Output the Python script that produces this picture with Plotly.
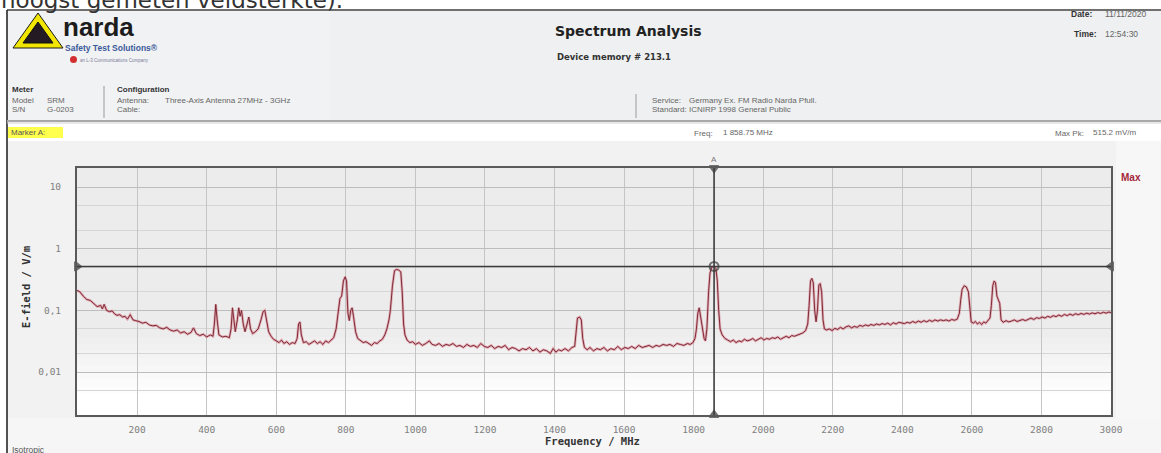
import plotly.graph_objects as go

# ---------------- data ----------------
freq_mhz = [
    27, 35, 45, 55, 65, 75, 85, 95, 100, 105, 112, 120, 128, 135, 142, 150, 158, 165, 172, 180,
    188, 196, 205, 215, 225, 235, 245, 255, 265, 275, 285, 295, 305, 315, 325, 335, 345, 355, 362, 370,
    380, 390, 400, 410, 418, 422, 426, 430, 435, 445, 455, 465, 470, 474, 478, 482, 488, 492, 496, 500,
    505, 510, 516, 521, 526, 532, 540, 548, 556, 562, 567, 572, 578, 585, 592, 600, 608, 615, 622, 630,
    638, 646, 654, 660, 664, 668, 672, 678, 686, 694, 702, 710, 718, 726, 734, 742, 750, 758, 765, 772,
    778, 783, 788, 793, 798, 802, 806, 810, 814, 818, 822, 828, 834, 842, 850, 858, 866, 874, 882, 890,
    898, 905, 912, 918, 924, 928, 934, 940, 946, 952, 958, 962, 966, 970, 976, 984, 992, 1000, 1010, 1020,
    1030, 1040, 1048, 1058, 1068, 1078, 1088, 1098, 1108, 1118, 1128, 1138, 1148, 1158, 1168, 1178, 1188, 1198, 1208, 1218,
    1228, 1238, 1248, 1258, 1268, 1278, 1288, 1298, 1308, 1318, 1328, 1338, 1348, 1358, 1368, 1378, 1388, 1396, 1404, 1412,
    1420, 1430, 1440, 1450, 1458, 1462, 1466, 1472, 1477, 1481, 1486, 1494, 1502, 1512, 1522, 1532, 1542, 1552, 1562, 1572,
    1582, 1592, 1602, 1612, 1622, 1632, 1642, 1652, 1662, 1672, 1682, 1692, 1702, 1712, 1722, 1732, 1742, 1752, 1762, 1772,
    1782, 1790, 1798, 1804, 1808, 1812, 1816, 1820, 1825, 1830, 1834, 1838, 1843, 1847, 1852, 1858.75, 1864, 1868, 1872, 1876,
    1882, 1890, 1898, 1906, 1914, 1922, 1930, 1938, 1946, 1954, 1962, 1970, 1978, 1986, 1994, 2002, 2010, 2018, 2026, 2034,
    2042, 2050, 2058, 2066, 2074, 2082, 2090, 2098, 2106, 2114, 2122, 2128, 2132, 2136, 2140, 2144, 2148, 2152, 2156, 2160,
    2164, 2168, 2172, 2176, 2182, 2190, 2198, 2206, 2214, 2222, 2230, 2238, 2246, 2254, 2262, 2270, 2278, 2286, 2294, 2302,
    2310, 2318, 2326, 2334, 2342, 2350, 2358, 2366, 2374, 2382, 2390, 2398, 2406, 2414, 2422, 2430, 2438, 2446, 2454, 2462,
    2470, 2478, 2486, 2494, 2502, 2510, 2518, 2526, 2534, 2542, 2550, 2558, 2564, 2568, 2572, 2578, 2584, 2590, 2594, 2598,
    2604, 2610, 2616, 2622, 2628, 2634, 2640, 2646, 2652, 2656, 2660, 2664, 2668, 2672, 2676, 2680, 2684, 2690, 2698, 2706,
    2714, 2722, 2730, 2738, 2746, 2754, 2762, 2770, 2778, 2786, 2794, 2802, 2810, 2818, 2826, 2834, 2842, 2850, 2858, 2866,
    2874, 2882, 2890, 2898, 2906, 2914, 2922, 2930, 2938, 2946, 2954, 2962, 2970, 2978, 2986, 2994, 3000,
]
efield_vm = [
    0.21, 0.20, 0.17, 0.15, 0.145, 0.13, 0.115, 0.12, 0.105, 0.125, 0.10, 0.095, 0.098, 0.088, 0.083, 0.085, 0.078, 0.08, 0.072, 0.085,
    0.07, 0.068, 0.066, 0.062, 0.064, 0.058, 0.056, 0.057, 0.052, 0.05, 0.053, 0.048, 0.046, 0.048, 0.043, 0.045, 0.041, 0.044, 0.052, 0.042,
    0.039, 0.041, 0.037, 0.040, 0.038, 0.06, 0.125, 0.07, 0.04, 0.037, 0.038, 0.036, 0.05, 0.11, 0.07, 0.045, 0.07, 0.11, 0.08, 0.10,
    0.06, 0.045, 0.06, 0.078, 0.05, 0.042, 0.045, 0.05, 0.07, 0.095, 0.10, 0.07, 0.045, 0.038, 0.034, 0.032, 0.030, 0.033, 0.029, 0.031,
    0.028, 0.030, 0.029, 0.035, 0.06, 0.065, 0.04, 0.030, 0.031, 0.028, 0.030, 0.032, 0.029, 0.031, 0.028, 0.032, 0.030, 0.033, 0.036, 0.05,
    0.10, 0.155, 0.17, 0.30, 0.35, 0.30, 0.09, 0.068, 0.10, 0.11, 0.08, 0.045, 0.035, 0.032, 0.030, 0.031, 0.029, 0.027, 0.030, 0.029,
    0.032, 0.034, 0.040, 0.050, 0.07, 0.10, 0.25, 0.44, 0.46, 0.45, 0.42, 0.20, 0.06, 0.04, 0.033, 0.030, 0.031, 0.028, 0.030, 0.027,
    0.029, 0.032, 0.028, 0.027, 0.029, 0.026, 0.028, 0.027, 0.029, 0.026, 0.027, 0.025, 0.028, 0.026, 0.027, 0.025, 0.029, 0.026, 0.025, 0.027,
    0.024, 0.026, 0.025, 0.027, 0.023, 0.025, 0.024, 0.022, 0.024, 0.023, 0.025, 0.022, 0.024, 0.021, 0.023, 0.022, 0.020, 0.024, 0.021, 0.023,
    0.022, 0.024, 0.022, 0.025, 0.026, 0.04, 0.075, 0.078, 0.07, 0.035, 0.025, 0.023, 0.025, 0.022, 0.024, 0.023, 0.025, 0.022, 0.024, 0.023,
    0.026, 0.023, 0.025, 0.024, 0.026, 0.024, 0.027, 0.025, 0.026, 0.027, 0.025, 0.027, 0.026, 0.028, 0.027, 0.028, 0.026, 0.029, 0.028, 0.027,
    0.029, 0.028, 0.030, 0.035, 0.05, 0.09, 0.11, 0.08, 0.05, 0.035, 0.032, 0.05, 0.20, 0.40, 0.50, 0.5152, 0.48, 0.30, 0.10, 0.05,
    0.04, 0.035, 0.033, 0.031, 0.033, 0.030, 0.032, 0.031, 0.034, 0.032, 0.033, 0.035, 0.032, 0.034, 0.036, 0.033, 0.035, 0.034, 0.036, 0.035,
    0.037, 0.034, 0.036, 0.038, 0.036, 0.039, 0.038, 0.040, 0.041, 0.043, 0.047, 0.06, 0.12, 0.30, 0.33, 0.28, 0.10, 0.065, 0.10, 0.26,
    0.27, 0.20, 0.07, 0.05, 0.048, 0.050, 0.047, 0.051, 0.049, 0.053, 0.050, 0.054, 0.056, 0.052, 0.055, 0.053, 0.057, 0.055, 0.058, 0.056,
    0.059, 0.057, 0.060, 0.058, 0.061, 0.059, 0.062, 0.058, 0.063, 0.060, 0.064, 0.062, 0.061, 0.064, 0.062, 0.066, 0.063, 0.067, 0.064, 0.068,
    0.065, 0.069, 0.066, 0.070, 0.067, 0.070, 0.068, 0.070, 0.067, 0.071, 0.069, 0.072, 0.09, 0.15, 0.22, 0.25, 0.24, 0.20, 0.10, 0.065,
    0.062, 0.066, 0.060, 0.064, 0.059, 0.065, 0.062, 0.067, 0.075, 0.12, 0.25, 0.30, 0.28, 0.17, 0.15, 0.13, 0.07, 0.064, 0.068, 0.065,
    0.067, 0.070, 0.066, 0.069, 0.071, 0.068, 0.072, 0.075, 0.071, 0.076, 0.074, 0.078, 0.075, 0.080, 0.077, 0.082, 0.079, 0.084, 0.080, 0.086,
    0.082, 0.087, 0.083, 0.088, 0.085, 0.089, 0.086, 0.090, 0.087, 0.091, 0.088, 0.092, 0.089, 0.093, 0.090, 0.094, 0.091,
]
x_tick_vals = [200, 400, 600, 800, 1000, 1200, 1400, 1600, 1800, 2000, 2200, 2400, 2600, 2800, 3000]
y_tick_vals = [10, 1, 0.1, 0.01]
y_tick_text = ["10", "1", "0,1", "0,01"]
marker_freq = 1858.75
marker_peak = 0.5152
x_range = [27, 3000]
y_range_log = [-2.697, 1.308]

# ---------------- geometry helpers (pixel -> paper) ----------------
W, H = 1161, 453
PL, PR, PT, PB = 77, 1111, 168, 415


def px(x):
    return (x - PL) / (PR - PL)


def py(y):
    return (PB - y) / (PB - PT)


shapes = []


def rect(x0, y0, x1, y1, fill, line=None, lw=0):
    shapes.append(dict(type="rect", xref="paper", yref="paper", x0=px(x0), x1=px(x1), y0=py(y1), y1=py(y0),
                       fillcolor=fill, line=dict(width=lw, color=line or fill), layer="below"))


def hline(x0, x1, y, color, w):
    shapes.append(dict(type="line", xref="paper", yref="paper", x0=px(x0), x1=px(x1), y0=py(y), y1=py(y),
                       line=dict(color=color, width=w), layer="above"))


def vline(x, y0, y1, color, w):
    shapes.append(dict(type="line", xref="paper", yref="paper", x0=px(x), x1=px(x), y0=py(y0), y1=py(y1),
                       line=dict(color=color, width=w), layer="above"))


# page panels
rect(0, 0, W, H, "#ffffff")
rect(7, 10, W, 122, "#eef0f1")
rect(7, 10, 330, 122, "#f1f2f3")
rect(7, 123, W, 141, "#ffffff")
rect(7, 141, W, H, "#f2f2f2")
rect(1116, 141, W, H, "#f7f7f7")
rect(7, 418, W, H, "#f6f6f6")
# plot area vertical gradient (grey top -> white bottom)
rect(PL, PT, PR, 330, "#ececec")
steps = 10
for i in range(steps):
    y0 = 330 + i * (400 - 330) / steps
    y1 = 330 + (i + 1) * (400 - 330) / steps
    c = int(236 + (255 - 236) * (i + 1) / steps)
    rect(PL, y0, PR, y1 + 0.5, f"rgb({c},{c},{c})")
rect(PL, 400, PR, PB, "#ffffff")

# frame lines
hline(7, W, 10, "#707070", 2)
vline(7, 10, H, "#1a1a1a", 1.5)
hline(7, W, 121, "#a8a8a8", 2)
hline(7, W, 123, "#d0d0d0", 1)
vline(104, 86, 118, "#9a9a9a", 1)
vline(636, 94, 118, "#9a9a9a", 1)

# narda logo triangles
shapes.append(dict(type="path", xref="paper", yref="paper",
                   path=f"M {px(13)} {py(48)} L {px(38)} {py(13)} L {px(63)} {py(48)} Z",
                   fillcolor="#f2e600", line=dict(color="#1a1a1a", width=1), layer="above"))
shapes.append(dict(type="path", xref="paper", yref="paper",
                   path=f"M {px(23)} {py(43)} L {px(38)} {py(22)} L {px(53)} {py(43)} Z",
                   fillcolor="#241a24", line=dict(color="#111", width=1), layer="above"))
shapes.append(dict(type="circle", xref="paper", yref="paper",
                   x0=px(70), x1=px(77), y0=py(63), y1=py(56),
                   fillcolor="#d23030", line=dict(width=0), layer="above"))
# Marker A highlight
rect(8, 127, 63, 138, "#ffff4d")

annotations = []


def txt(x, y, s, size=8, color="#555", bold=False, anchor="left", family="Liberation Sans", yanchor="middle", angle=0):
    annotations.append(dict(xref="paper", yref="paper", x=px(x), y=py(y), text=f"<b>{s}</b>" if bold else s,
                            showarrow=False, xanchor=anchor, yanchor=yanchor, textangle=angle,
                            font=dict(size=size, color=color, family=family), borderpad=0))


# clipped document text at very top
txt(0, 14, "hoogst gemeten veldsterkte).", size=23, color="#333", family="DejaVu Sans", yanchor="bottom")

txt(62, 27, "narda", size=26, color="#1c1c1c", bold=True, family="Liberation Sans")
txt(64, 48, "Safety Test Solutions®", size=8.5, color="#3a5a9a", bold=True)
txt(79, 60, "an L-3 Communications Company", size=4.5, color="#7a7a9a")

txt(628, 31, "Spectrum Analysis", size=14, color="#222", bold=True, anchor="center", family="DejaVu Sans")
txt(614, 57, "Device memory # 213.1", size=8.5, color="#333", bold=True, anchor="center", family="DejaVu Sans")

txt(1070, 14, "Date:", size=8.5, color="#333", bold=True)
txt(1104, 14, "11/11/2020", size=8.5, color="#666")
txt(1073, 34, "Time:", size=8.5, color="#333", bold=True)
txt(1104, 34, "12:54:30", size=8.5, color="#666")

FS = 8
txt(11, 90, "Meter", size=FS, color="#333", bold=True)
txt(11, 100, "Model", size=FS, color="#666")
txt(46, 100, "SRM", size=FS, color="#666")
txt(11, 109, "S/N", size=FS, color="#666")
txt(46, 109, "G-0203", size=FS, color="#666")
txt(116, 90, "Configuration", size=FS, color="#333", bold=True)
txt(116, 100, "Antenna:", size=FS, color="#666")
txt(164, 100, "Three-Axis Antenna 27MHz - 3GHz", size=FS, color="#666")
txt(116, 109, "Cable:", size=FS, color="#666")
txt(651, 100, "Service:", size=FS, color="#666")
txt(688, 100, "Germany Ex. FM Radio Narda Pfull.", size=FS, color="#666")
txt(651, 109, "Standard:", size=FS, color="#666")
txt(688, 109, "ICNIRP 1998 General Public", size=FS, color="#666")

txt(10, 132, "Marker A:", size=FS, color="#555")
txt(693, 133, "Freq:", size=FS, color="#666")
txt(722, 132, "1 858.75 MHz", size=FS, color="#666")
txt(1054, 133, "Max Pk:", size=FS, color="#666")
txt(1092, 132, "515.2 mV/m", size=FS, color="#666")

txt(11, 450, "Isotropic", size=8.5, color="#555")
txt(1120, 177, "Max", size=10, color="#a3283a", bold=True)
txt(714, 159, "A", size=8, color="#777", anchor="center")
txt(26, 287, "E-field / V/m", size=10.5, color="#333", bold=True, anchor="center", family="DejaVu Sans Mono", angle=-90)
txt(592, 441, "Frequency / MHz", size=10.5, color="#333", bold=True, anchor="center", family="DejaVu Sans Mono")

# ---------------- figure ----------------
fig = go.Figure()
# soft halo under the trace (matches blurred rendering)
fig.add_trace(go.Scatter(x=freq_mhz, y=efield_vm, mode="lines",
                         line=dict(color="rgba(215,120,135,0.55)", width=2.6), hoverinfo="skip"))
fig.add_trace(go.Scatter(x=freq_mhz, y=efield_vm, mode="lines",
                         line=dict(color="#7e2a36", width=1.0), name="Max"))

# marker lines
y_top = 10 ** y_range_log[1]
y_bot = 10 ** y_range_log[0]
fig.add_trace(go.Scatter(x=[marker_freq, marker_freq], y=[y_bot, y_top], mode="lines",
                         line=dict(color="#3c3c3c", width=1.6), cliponaxis=False, hoverinfo="skip"))
fig.add_trace(go.Scatter(x=[x_range[0], x_range[1]], y=[marker_peak, marker_peak], mode="lines",
                         line=dict(color="#3c3c3c", width=1.6), cliponaxis=False, hoverinfo="skip"))
fig.add_trace(go.Scatter(
    x=[marker_freq, marker_freq, x_range[0], x_range[1], marker_freq],
    y=[y_top, y_bot, marker_peak, marker_peak, marker_peak],
    mode="markers", cliponaxis=False, hoverinfo="skip",
    marker=dict(symbol=["triangle-down", "triangle-up", "triangle-right", "triangle-left", "circle-open"],
                size=[8, 8, 8, 8, 9], color="#3c3c3c", line=dict(color="#3c3c3c", width=2))))

fig.update_layout(
    width=W, height=H, autosize=False,
    margin=dict(l=PL, r=W - PR, t=PT, b=H - PB, pad=0),
    paper_bgcolor="#ffffff", plot_bgcolor="rgba(0,0,0,0)",
    showlegend=False,
    shapes=shapes, annotations=annotations,
    xaxis=dict(range=x_range, tickvals=x_tick_vals, ticks="", ticklabelstandoff=5,
               tickfont=dict(size=9.5, color="#808080", family="DejaVu Sans Mono"),
               showgrid=True, gridcolor="#c4c4c4", gridwidth=1, zeroline=False,
               showline=True, linecolor="#5a5a5a", linewidth=2, mirror=True),
    yaxis=dict(type="log", range=y_range_log, tickvals=y_tick_vals, ticktext=y_tick_text, ticks="",
               ticklabelstandoff=12,
               tickfont=dict(size=9.5, color="#808080", family="DejaVu Sans Mono"),
               showgrid=True, gridcolor="#bdbdbd", gridwidth=1, zeroline=False,
               minor=dict(dtick="D2", showgrid=True, gridcolor="#d6d6d6", gridwidth=1),
               showline=True, linecolor="#5a5a5a", linewidth=2, mirror=True),
)

fig.write_html("out.html", config={"displayModeBar": False},
               post_script="document.body.style.margin='0';document.body.style.overflow='hidden';")
